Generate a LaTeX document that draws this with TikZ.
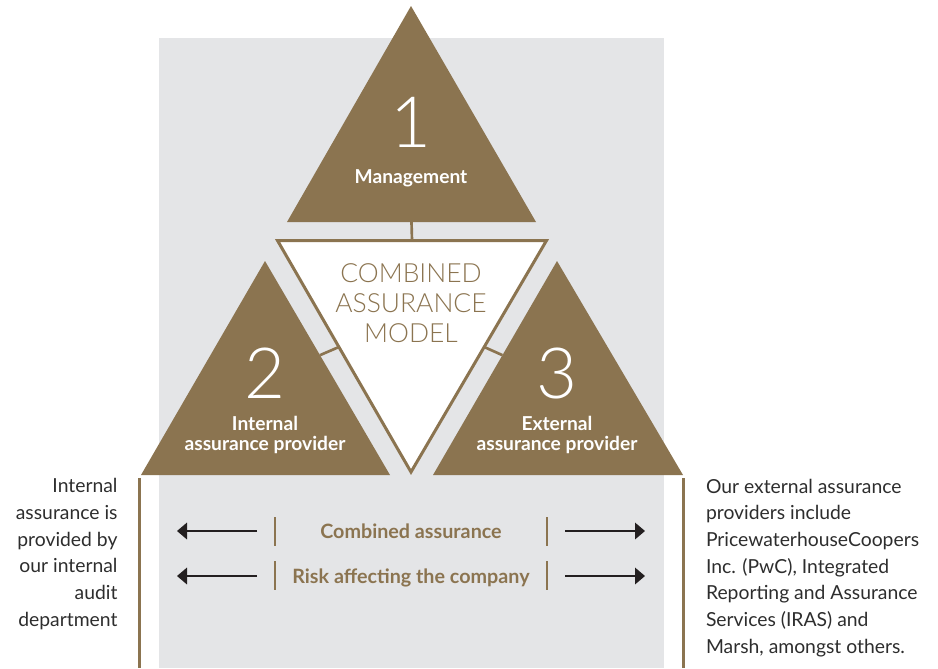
\documentclass[tikz,border=0pt]{standalone}
\usepackage{fontspec}
\setmainfont{Lato}
\newfontfamily\lightfont{Lato Light}
\usetikzlibrary{arrows.meta,calc}
\definecolor{caBrown}{RGB}{139,116,80}
\definecolor{caGrey}{RGB}{228,229,231}
\definecolor{caText}{RGB}{45,45,45}
\definecolor{caArrow}{RGB}{35,31,32}
\tikzset{every picture/.style={line width=0.75pt}}
\tikzset{
	tri/.style={fill=caBrown, draw=none},
	link/.style={draw=caBrown, line width=2pt},
	bigdigit/.style={text=white, inner sep=0, anchor=base, font=\fontsize{53}{53}\lightfont},
	trilabel/.style={text=white, inner sep=0, anchor=base, align=center, font=\fontsize{14.4}{15}\bfseries},
	sidetext/.style={text=caText, inner sep=0, font=\fontsize{14.5}{20}\selectfont},
	bartext/.style={text=caBrown, inner sep=0, anchor=base, font=\fontsize{14.8}{16}\bfseries},
	flow/.style={draw=caArrow, line width=1pt, -{Triangle[length=7.5pt,width=12.5pt]}}
}

\begin{document}
\begin{tikzpicture}[x=0.75pt,y=0.75pt,yscale=-1,xscale=1]
	\useasboundingbox (0,0) rectangle (938,668);

	%Shape: Rectangle [background]
	\fill [caGrey] (158.5,38) rectangle (663.5,668);

	%Shape: Triangle [management]
	\coordinate (t1) at (411,6);
	\coordinate (t1l) at (287,222);
	\coordinate (t1r) at (536,222);
	\draw [tri] (t1) -- (t1r) -- (t1l) -- cycle;
	%Shape: Triangle [internal]
	\coordinate (t2) at (265,261);
	\coordinate (t2l) at (141,475);
	\coordinate (t2r) at (390,475);
	\draw [tri] (t2) -- (t2r) -- (t2l) -- cycle;
	%Shape: Triangle [external]
	\coordinate (t3) at (557,261);
	\coordinate (t3l) at (433,475);
	\coordinate (t3r) at (683,475);
	\draw [tri] (t3) -- (t3r) -- (t3l) -- cycle;
	%Shape: Triangle [model]
	\coordinate (cml) at (277.5,240.5);
	\coordinate (cmr) at (546.5,240.5);
	\coordinate (cmb) at (411,472);
	\draw [draw=caBrown, fill=white, line width=2.25pt] (cml) -- (cmr) -- (cmb) -- cycle;

	%Straight Lines [links]
	\draw [link] ($(t1l)!0.5!(t1r)$) -- ($(cml)!0.5!(cmr)$);
	\draw [link] ($(t2)!0.44!(t2r)$) -- ($(cml)!0.46!(cmb)$);
	\draw [link] ($(t3)!0.44!(t3l)$) -- ($(cmr)!0.46!(cmb)$);

	%Straight Lines [side rules]
	\draw [draw=caBrown, line width=2.25pt] (139,478) -- (139,668);
	\draw [draw=caBrown, line width=2.25pt] (683,478) -- (683,668);

	% Text Node
	\draw (411,147) node [bigdigit] (n1) {1};
	% Text Node
	\draw (411,183) node [trilabel] (mgmt) {Management};
	% Text Node
	\draw (265,398) node [bigdigit] (n2) {2};
	% Text Node
	\draw (265,450) node [trilabel] (intl) {Internal\\assurance provider};
	% Text Node
	\draw (557,398) node [bigdigit] (n3) {3};
	% Text Node
	\draw (557,450) node [trilabel] (extl) {External\\assurance provider};
	% Text Node
	\draw (411,342) node [text=caBrown, inner sep=0, anchor=base, align=center, font=\fontsize{19.8}{22.2}\lightfont] (model) {COMBINED\\ASSURANCE\\MODEL};

	% Text Node
	\draw (411,538) node [bartext] (comb) {Combined assurance};
	% Text Node
	\draw (411,583) node [bartext] (risk) {Risk affecting the company};

	%Straight Lines [bars]
	\foreach \yy in {517,561} {
		\draw [draw=caBrown, line width=2pt] (275,\yy) -- (275,\yy+29);
		\draw [draw=caBrown, line width=2pt] (547,\yy) -- (547,\yy+29);
	}
	\coordinate (cl) at (257,531);
	\coordinate (cle) at (177,531);
	\coordinate (cr) at (565,531);
	\coordinate (cre) at (645,531);
	\coordinate (rl) at (257,576);
	\coordinate (rle) at (177,576);
	\coordinate (rr) at (565,576);
	\coordinate (rre) at (645,576);
	\draw [flow] (cl) -- (cle);
	\draw [flow] (cr) -- (cre);
	\draw [flow] (rl) -- (rle);
	\draw [flow] (rr) -- (rre);

	% Text Node
	\draw (118,626) node [sidetext, anchor=base east, align=right] (inside) {Internal\\assurance is\\provided by\\our internal\\audit\\department};
	% Text Node
	\draw (705.5,653) node [sidetext, anchor=base west, align=left] (outside) {Our external assurance\\providers include\\PricewaterhouseCoopers\\Inc. (PwC), Integrated\\Reporting and Assurance\\Services (IRAS) and\\Marsh, amongst others.};

\end{tikzpicture}
\end{document}
